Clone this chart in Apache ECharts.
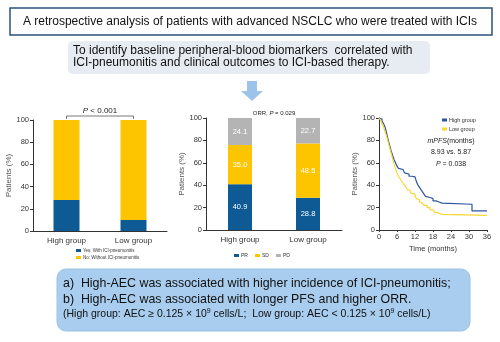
<!DOCTYPE html>
<html>
<head>
<meta charset="utf-8">
<script src="https://cdn.jsdelivr.net/npm/echarts@6/dist/echarts.min.js"></script>
<style>
  html, body { margin: 0; padding: 0; background: #fff; }
  #main { width: 500px; height: 342px; }
</style>
</head>
<body>
<div id="main"></div>
<script>
// ---- data ----
const groups = ['High group', 'Low group'];

// ICI-pneumonitis incidence (%)
const pneumonitisYes = [28, 10];
const pneumonitisNo = [72, 90];

// best response (%)
const responsePR = [40.9, 28.8];
const responseSD = [35.0, 48.5];
const responsePD = [24.1, 22.7];

// progression-free survival, [month, % free of progression]
const pfsHigh = [[0,100],[0.5,99],[1,97],[1.5,95],[2,92],[2.5,87],[3,81],[3.5,76],[4,71],[4.5,67],[5,63],[5.5,60],[6,57],[6.5,55],[7,54],[8,53],[8.5,51],[9,50],[10,48],[11,47.5],[12,46],[12.5,43],[13,40],[13.5,38],[14,36],[14.5,34],[15,32],[15.5,30],[16,29],[17,28],[18,26],[19,25],[20,24],[21,23],[31,23],[31,17],[36,17]];
const pfsLow = [[0,100],[0.5,98],[1,95],[1.5,92],[2,88],[2.5,84],[3,79],[3.5,74],[4,69],[4.5,64],[5,59],[5.5,55],[6,51],[6.5,48],[7,46],[7.5,44],[8,42],[8.5,40],[9,38],[9.5,36],[10,35],[10.5,33],[11,32],[12,30],[12.5,28],[13,27],[13.5,25],[14,24],[14.5,23],[15,22],[16,20],[17,18],[18,17],[18.5,16],[19,15],[20,14],[21,13],[36,13]];

const yTicks = [0, 20, 40, 60, 80, 100];
const monthTicks = [0, 6, 12, 18, 24, 30, 36];

// ---- styles ----
const BLUE = '#0d5a94';
const YELLOW = '#fdc400';
const GREY = '#b4b4b4';
const LINE_BLUE = '#2c55a0';
const LINE_YELLOW = '#fbd635';
const FONT = 'Liberation Sans, Arial, sans-serif';
const AXIS = '#333';

function yAxisCfg(grid) {
  return {
    type: 'value', gridIndex: grid, min: yTicks[0], max: yTicks[yTicks.length - 1], interval: 20,
    name: 'Patients (%)', nameLocation: 'middle', nameGap: 18,
    nameTextStyle: { fontSize: 8, color: '#555', fontFamily: FONT },
    axisLine: { show: true, lineStyle: { color: AXIS, width: 1 } },
    axisTick: { show: true, length: 3, lineStyle: { color: AXIS } },
    axisLabel: { fontSize: 7.5, color: '#333', margin: 4, fontFamily: FONT },
    splitLine: { show: false }
  };
}
function catAxisCfg(grid) {
  return {
    type: 'category', gridIndex: grid, data: groups,
    axisLine: { show: true, lineStyle: { color: AXIS, width: 1 } },
    axisTick: { show: false },
    axisLabel: { fontSize: 8, color: '#333', margin: 6, fontFamily: FONT }
  };
}

const chart = echarts.init(document.getElementById('main'), null, { renderer: 'canvas' });

const option = {
  animation: false,
  backgroundColor: '#fff',
  textStyle: { fontFamily: FONT },
  grid: [
    { left: 33, top: 120, width: 134, height: 111 },
    { left: 206, top: 118, width: 136, height: 112 },
    { left: 379, top: 118, width: 108, height: 112 }
  ],
  xAxis: [
    catAxisCfg(0),
    catAxisCfg(1),
    {
      type: 'value', gridIndex: 2, min: monthTicks[0], max: monthTicks[monthTicks.length - 1], interval: 6,
      name: 'Time (months)', nameLocation: 'middle', nameGap: 15,
      nameTextStyle: { fontSize: 7.5, color: '#333', fontFamily: FONT },
      axisLine: { show: true, lineStyle: { color: AXIS, width: 1 } },
      axisTick: { show: true, length: 2, lineStyle: { color: AXIS } },
      axisLabel: { fontSize: 7.5, color: '#333', margin: 3, fontFamily: FONT },
      splitLine: { show: false }
    }
  ],
  yAxis: [yAxisCfg(0), yAxisCfg(1), yAxisCfg(2)],
  legend: [
    {
      data: ['Yes: With ICI-pneumonitis', 'No: Without ICI-pneumonitis'],
      orient: 'vertical', left: 76, top: 248, itemWidth: 5, itemHeight: 3, itemGap: 2,
      icon: 'rect', textStyle: { fontSize: 4.5, color: '#333', padding: [0, 0, 0, -3] }, padding: 0
    },
    {
      data: ['PR', 'SD', 'PD'],
      orient: 'horizontal', left: 234, top: 253, itemWidth: 5, itemHeight: 3, itemGap: 7,
      icon: 'rect', textStyle: { fontSize: 5, color: '#333', padding: [0, 0, 0, -3] }, padding: 0
    },
    {
      data: ['High group', 'Low group'],
      orient: 'vertical', left: 442, top: 117, itemWidth: 5, itemHeight: 3, itemGap: 3,
      icon: 'rect', textStyle: { fontSize: 5.5, color: '#333', padding: [0, 0, 0, -3] }, padding: 0
    }
  ],
  series: [
    {
      name: 'Yes: With ICI-pneumonitis', type: 'bar', stack: 'p', xAxisIndex: 0, yAxisIndex: 0,
      data: pneumonitisYes, barWidth: 26, itemStyle: { color: BLUE }
    },
    {
      name: 'No: Without ICI-pneumonitis', type: 'bar', stack: 'p', xAxisIndex: 0, yAxisIndex: 0,
      data: pneumonitisNo, barWidth: 26, itemStyle: { color: YELLOW }
    },
    {
      name: 'PR', type: 'bar', stack: 'r', xAxisIndex: 1, yAxisIndex: 1,
      data: responsePR, barWidth: 24, itemStyle: { color: BLUE },
      label: { show: true, position: 'inside', color: '#fff', fontSize: 7.5, formatter: p => p.value.toFixed(1) }
    },
    {
      name: 'SD', type: 'bar', stack: 'r', xAxisIndex: 1, yAxisIndex: 1,
      data: responseSD, barWidth: 24, itemStyle: { color: YELLOW },
      label: { show: true, position: 'inside', color: '#fff', fontSize: 7.5, formatter: p => p.value.toFixed(1) }
    },
    {
      name: 'PD', type: 'bar', stack: 'r', xAxisIndex: 1, yAxisIndex: 1,
      data: responsePD, barWidth: 24, itemStyle: { color: GREY },
      label: { show: true, position: 'inside', color: '#fff', fontSize: 7.5, formatter: p => p.value.toFixed(1) }
    },
    {
      name: 'High group', type: 'line', xAxisIndex: 2, yAxisIndex: 2, step: 'end',
      data: pfsHigh, showSymbol: false, lineStyle: { color: LINE_BLUE, width: 1.2 }, itemStyle: { color: LINE_BLUE }
    },
    {
      name: 'Low group', type: 'line', xAxisIndex: 2, yAxisIndex: 2, step: 'end',
      data: pfsLow, showSymbol: false, lineStyle: { color: LINE_YELLOW, width: 1.2 }, itemStyle: { color: LINE_YELLOW }
    }
  ]
};
chart.setOption(option);

// ---- panels, arrow and annotations ----
const p1a = chart.convertToPixel({ xAxisIndex: 0, yAxisIndex: 0 }, [groups[0], 100]);
const p1b = chart.convertToPixel({ xAxisIndex: 0, yAxisIndex: 0 }, [groups[1], 100]);
const p2a = chart.convertToPixel({ xAxisIndex: 1, yAxisIndex: 1 }, [groups[0], 100]);
const p2b = chart.convertToPixel({ xAxisIndex: 1, yAxisIndex: 1 }, [groups[1], 100]);
const bracketY = p1a[1] - 4;

chart.setOption({
  graphic: [
    // heading box
    { type: 'rect', shape: { x: 10, y: 8, width: 482, height: 27 },
      style: { fill: '#fff', stroke: '#2b5279', lineWidth: 1.5 } },
    { type: 'text', x: 250, y: 22,
      style: { text: 'A retrospective analysis of patients with advanced NSCLC who were treated with ICIs',
        font: '12px ' + FONT, fill: '#111', align: 'center', verticalAlign: 'middle' } },
    // aim box
    { type: 'rect', shape: { x: 68, y: 41, width: 362, height: 33, r: 5 },
      style: { fill: '#e7ecf2' } },
    { type: 'text', x: 73, y: 56.5,
      style: { text: 'To identify baseline peripheral-blood biomarkers  correlated with\nICI-pneumonitis and clinical outcomes to ICI-based therapy.',
        font: '12px ' + FONT, fill: '#111', align: 'left', verticalAlign: 'middle', lineHeight: 12.5 } },
    // down arrow
    { type: 'polygon', shape: { points: [[247, 81], [257, 81], [257, 91], [263, 91], [252, 101], [241, 91], [247, 91]] },
      style: { fill: '#9cc4ea' } },
    // significance bracket, panel 1
    { type: 'polyline', shape: { points: [[p1a[0], bracketY + 3], [p1a[0], bracketY], [p1b[0], bracketY], [p1b[0], bracketY + 3]] },
      style: { stroke: '#555', lineWidth: 0.8, fill: null } },
    { type: 'text', x: (p1a[0] + p1b[0]) / 2, y: bracketY - 1,
      style: { rich: { i: { font: 'italic 8px ' + FONT, fill: '#222' }, n: { font: '8px ' + FONT, fill: '#222' } },
        text: '{i|P}{n| < 0.001}', align: 'center', verticalAlign: 'bottom' } },
    // ORR title, panel 2
    { type: 'text', x: (p2a[0] + p2b[0]) / 2, y: p2a[1] - 2,
      style: { rich: { i: { font: 'italic 6px ' + FONT, fill: '#222' }, n: { font: '6px ' + FONT, fill: '#222' } },
        text: '{n|ORR, }{i|P}{n| = 0.029}', align: 'center', verticalAlign: 'bottom' } },
    // median PFS note, panel 3
    { type: 'text', x: 451, y: 135,
      style: { rich: { i: { font: 'italic 7px ' + FONT, fill: '#222' }, n: { font: '7px ' + FONT, fill: '#222' } },
        text: '{i|mPFS}{n|(months)}\n{n|8.93 vs. 5.87}\n{i|P}{n| = 0.038}', align: 'center', verticalAlign: 'top', lineHeight: 11.5 } },
    // conclusions box
    { type: 'rect', shape: { x: 57, y: 269, width: 413, height: 62, r: 9 },
      style: { fill: '#a8cdee', stroke: '#9bc3e6', lineWidth: 1 } },
    { type: 'text', x: 63, y: 284,
      style: { text: 'a)  High-AEC was associated with higher incidence of ICI-pneumonitis;',
        font: '12.4px ' + FONT, fill: '#111', verticalAlign: 'middle' } },
    { type: 'text', x: 63, y: 299.5,
      style: { text: 'b)  High-AEC was associated with longer PFS and higher ORR.',
        font: '12.4px ' + FONT, fill: '#111', verticalAlign: 'middle' } },
    { type: 'text', x: 63, y: 314,
      style: { rich: { n: { font: '10.5px ' + FONT, fill: '#111' }, s: { font: '7px ' + FONT, fill: '#111', verticalAlign: 'top', padding: [0, 0, 5, 0] } },
        text: '{n|(High group: AEC ≥ 0.125 × 10}{s|9}{n| cells/L;  Low group: AEC < 0.125 × 10}{s|9}{n| cells/L)}',
        verticalAlign: 'middle' } }
  ]
});
</script>
</body>
</html>
